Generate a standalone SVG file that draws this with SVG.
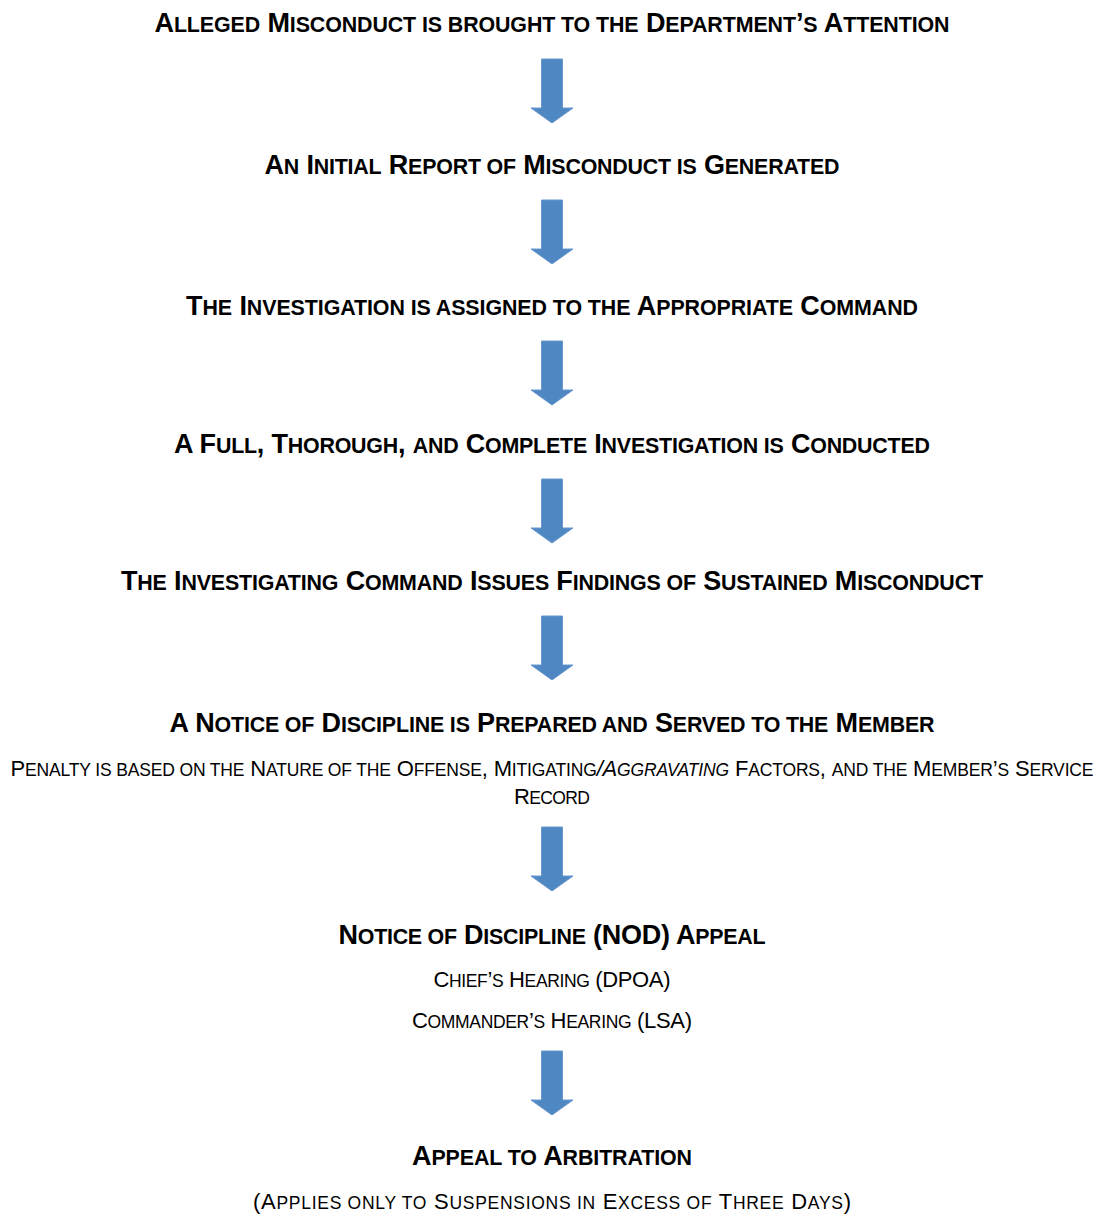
<svg xmlns="http://www.w3.org/2000/svg" xmlns:xlink="http://www.w3.org/1999/xlink" width="1095" height="1214" viewBox="0 0 1095 1214">
<style>
text{font-family:"Liberation Sans",Arial,sans-serif;fill:#000;text-anchor:middle}
.h{font-weight:bold;font-size:27px}
.h .s{font-size:21.4px}
.b{font-weight:normal;font-size:22px}
.b .s{font-size:17.5px}
.i{font-style:italic}
.arrow{fill:#4F87C2;stroke:#6798CE;stroke-width:1}
</style>
<defs>
<path id="arr" d="M-10.5,0 H10.5 V49 H21 L0,64 L-21,49 H-10.5 Z"/>
</defs>
<rect width="1095" height="1214" fill="#fff"/>
<g id="connectors">
<use xlink:href="#arr" class="arrow" x="552" y="59"/>
<use xlink:href="#arr" class="arrow" x="552" y="200"/>
<use xlink:href="#arr" class="arrow" x="552" y="341"/>
<use xlink:href="#arr" class="arrow" x="552" y="479"/>
<use xlink:href="#arr" class="arrow" x="552" y="616"/>
<use xlink:href="#arr" class="arrow" x="552" y="827"/>
<use xlink:href="#arr" class="arrow" x="552" y="1051"/>
</g>
<g id="step1"><text class="h" x="552" y="32" textLength="795" lengthAdjust="spacing">A<tspan class="s">LLEGED</tspan> M<tspan class="s">ISCONDUCT IS BROUGHT TO THE</tspan> D<tspan class="s">EPARTMENT</tspan>’<tspan class="s">S</tspan> A<tspan class="s">TTENTION</tspan></text></g>
<g id="step2"><text class="h" x="552" y="174" textLength="575" lengthAdjust="spacing">A<tspan class="s">N</tspan> I<tspan class="s">NITIAL</tspan> R<tspan class="s">EPORT OF</tspan> M<tspan class="s">ISCONDUCT IS</tspan> G<tspan class="s">ENERATED</tspan></text></g>
<g id="step3"><text class="h" x="552" y="315" textLength="732" lengthAdjust="spacing">T<tspan class="s">HE</tspan> I<tspan class="s">NVESTIGATION IS ASSIGNED TO THE</tspan> A<tspan class="s">PPROPRIATE</tspan> C<tspan class="s">OMMAND</tspan></text></g>
<g id="step4"><text class="h" x="552" y="453" textLength="756" lengthAdjust="spacing">A F<tspan class="s">ULL</tspan>, T<tspan class="s">HOROUGH</tspan>, <tspan class="s">AND</tspan> C<tspan class="s">OMPLETE</tspan> I<tspan class="s">NVESTIGATION IS</tspan> C<tspan class="s">ONDUCTED</tspan></text></g>
<g id="step5"><text class="h" x="552" y="590" textLength="862" lengthAdjust="spacing">T<tspan class="s">HE</tspan> I<tspan class="s">NVESTIGATING</tspan> C<tspan class="s">OMMAND</tspan> I<tspan class="s">SSUES</tspan> F<tspan class="s">INDINGS OF</tspan> S<tspan class="s">USTAINED</tspan> M<tspan class="s">ISCONDUCT</tspan></text></g>
<g id="step6">
<text class="h" x="552" y="732" textLength="765" lengthAdjust="spacing">A N<tspan class="s">OTICE OF</tspan> D<tspan class="s">ISCIPLINE IS</tspan> P<tspan class="s">REPARED AND</tspan> S<tspan class="s">ERVED TO THE</tspan> M<tspan class="s">EMBER</tspan></text>
<text class="b" x="552" y="776" textLength="1083" lengthAdjust="spacing">P<tspan class="s">ENALTY IS BASED ON THE</tspan> N<tspan class="s">ATURE OF THE</tspan> O<tspan class="s">FFENSE</tspan>, M<tspan class="s">ITIGATING</tspan><tspan class="i">/A<tspan class="s">GGRAVATING</tspan></tspan> F<tspan class="s">ACTORS</tspan>, <tspan class="s">AND THE</tspan> M<tspan class="s">EMBER</tspan>’<tspan class="s">S</tspan> S<tspan class="s">ERVICE</tspan></text>
<text class="b" x="552" y="804" textLength="76" lengthAdjust="spacing">R<tspan class="s">ECORD</tspan></text>
</g>
<g id="step7">
<text class="h" x="552" y="944" textLength="427" lengthAdjust="spacing">N<tspan class="s">OTICE OF</tspan> D<tspan class="s">ISCIPLINE</tspan> (NOD) A<tspan class="s">PPEAL</tspan></text>
<text class="b" x="552" y="987" textLength="237" lengthAdjust="spacing">C<tspan class="s">HIEF</tspan>’<tspan class="s">S</tspan> H<tspan class="s">EARING</tspan> (DPOA)</text>
<text class="b" x="552" y="1028" textLength="280" lengthAdjust="spacing">C<tspan class="s">OMMANDER</tspan>’<tspan class="s">S</tspan> H<tspan class="s">EARING</tspan> (LSA)</text>
</g>
<g id="step8">
<text class="h" x="552" y="1165" textLength="280" lengthAdjust="spacing">A<tspan class="s">PPEAL TO</tspan> A<tspan class="s">RBITRATION</tspan></text>
<text class="b" x="552" y="1209" textLength="598" lengthAdjust="spacing">(A<tspan class="s">PPLIES ONLY TO</tspan> S<tspan class="s">USPENSIONS IN</tspan> E<tspan class="s">XCESS OF</tspan> T<tspan class="s">HREE</tspan> D<tspan class="s">AYS</tspan>)</text>
</g>
</svg>
